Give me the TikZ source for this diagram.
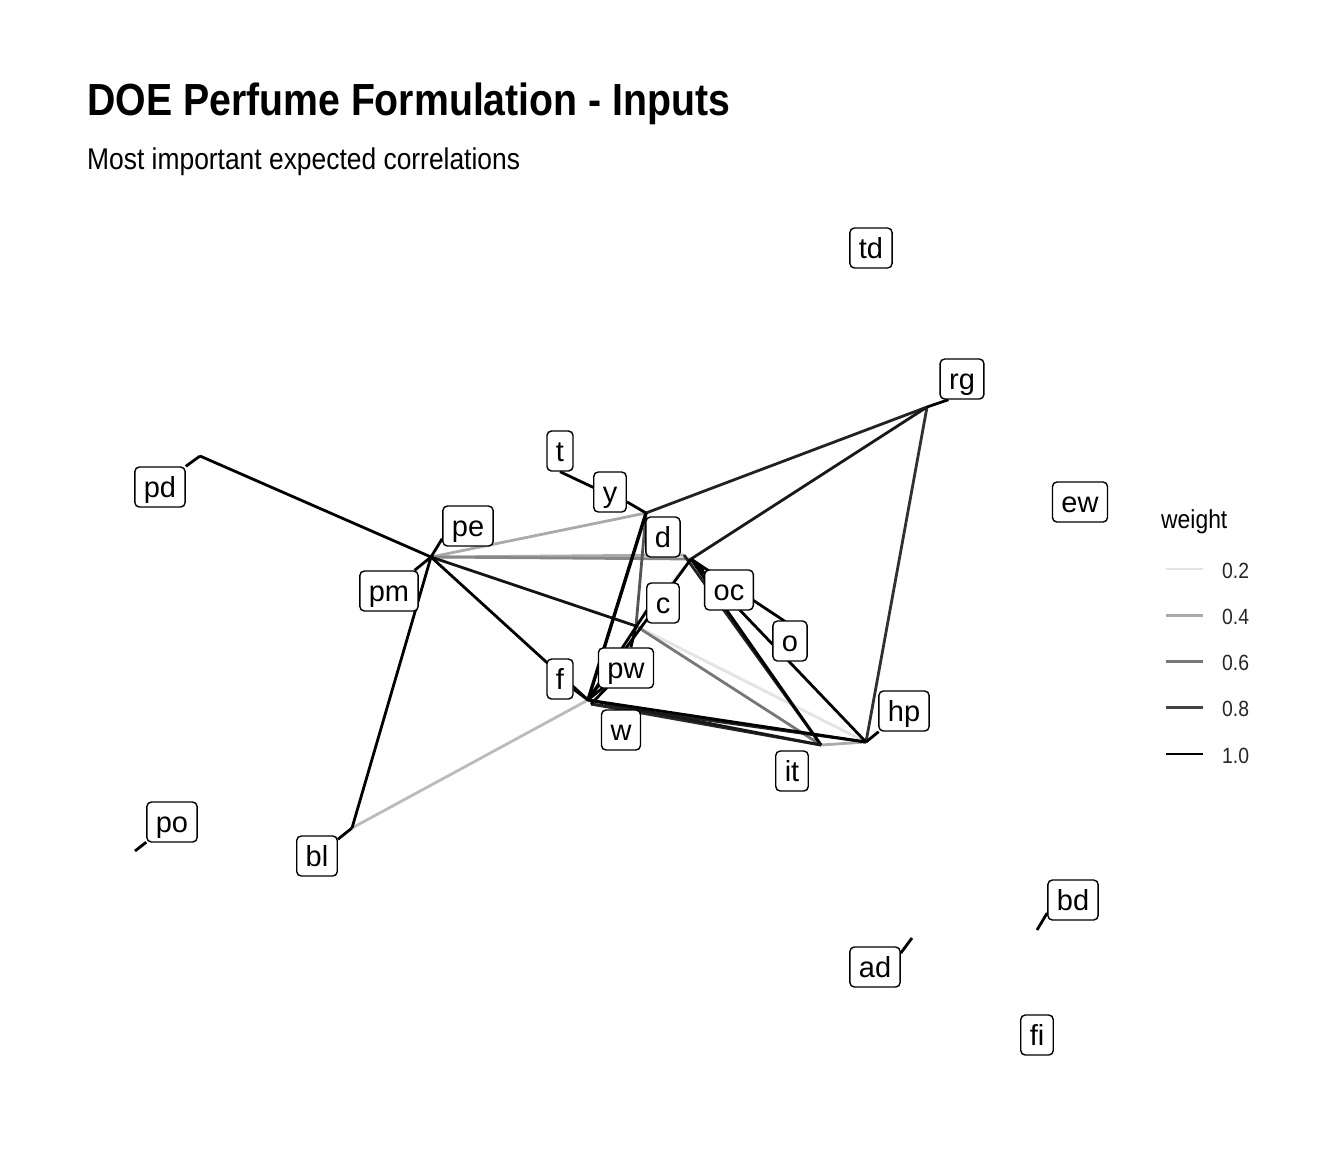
\documentclass[tikz,border=0pt]{standalone}
\usepackage{fontspec}
\setmainfont{Liberation Sans}
\newfontfamily\narrow[FakeStretch=0.88]{Liberation Sans}
\newfontfamily\narrowtitle[FakeStretch=0.872]{Liberation Sans}
\definecolor{wA}{HTML}{E4E4E4}
\definecolor{wB}{HTML}{AAAAAA}
\definecolor{wBB}{HTML}{BBBBBB}
\definecolor{wC}{HTML}{777777}
\definecolor{wCC}{HTML}{888888}
\definecolor{wD}{HTML}{444444}
\definecolor{wDD}{HTML}{555555}
\definecolor{wE}{HTML}{222222}
\definecolor{wF}{HTML}{000000}
\pgfdeclarelayer{edgelayer}
\pgfdeclarelayer{bglayer}
\pgfsetlayers{bglayer,edgelayer,main}
\begin{document}
\begin{tikzpicture}[x=1pt,y=-1pt,
  lbl/.style={draw=black, line width=1.4pt, rounded corners=4.5pt, fill=white,
    font=\fontsize{29}{30}\selectfont, text height=24.5pt, text depth=3.5pt,
    inner xsep=9pt, inner ysep=6pt},
  edge/.style={line width=2.8pt},
  seg/.style={line width=2.8pt, draw=black},
  legline/.style={line width=2.7pt},
  legtxt/.style={anchor=base west, inner sep=0pt, font=\narrow\fontsize{22}{24}\selectfont, text=black!85},
]
\useasboundingbox (0,0) rectangle (1344,1152);
\begin{pgfonlayer}{bglayer}
\fill[white] (0,0) rectangle (1344,1152);
\end{pgfonlayer}

% title
\node[anchor=base west, inner sep=0pt, font=\narrowtitle\bfseries\fontsize{45}{54}\selectfont] (title) at (87,115) {DOE Perfume Formulation - Inputs};
\node[anchor=base west, inner sep=0pt, font=\narrow\fontsize{30}{36}\selectfont] (subtitle) at (87,169) {Most important expected correlations};

% hidden node points
\coordinate (p_pd) at (200,456);
\coordinate (p_pe) at (431,557);
\coordinate (p_pm) at (431,557);
\coordinate (p_bl) at (352,828);
\coordinate (p_po) at (135,851);
\coordinate (p_rg) at (927,407);
\coordinate (p_t) at (620,500);
\coordinate (p_y) at (646,513);
\coordinate (p_d) at (684,555);
\coordinate (p_oc) at (691,559);
\coordinate (p_c) at (655,598);
\coordinate (p_x) at (636,626);
\coordinate (p_pw) at (622,672);
\coordinate (p_f) at (588,700);
\coordinate (p_w) at (591,704);
\coordinate (p_o) at (795,628);
\coordinate (p_hp) at (866,742);
\coordinate (p_it) at (821,745);
\coordinate (p_ad) at (912,938);
\coordinate (p_bd) at (1037,930);

% labels
\node[lbl] (td) at (871,248) {td};
\node[lbl] (rg) at (962,379) {rg};
\node[lbl] (t) at (560,451) {t};
\node[lbl] (y) at (610,492) {y};
\node[lbl] (pd) at (160,487) {pd};
\node[lbl] (ew) at (1080,502) {ew};
\node[lbl] (pe) at (468,526) {pe};
\node[lbl] (d) at (663,537) {d};
\node[lbl] (pm) at (389,591) {pm};
\node[lbl] (oc) at (729,590) {oc};
\node[lbl] (c) at (663,603) {c};
\node[lbl] (o) at (790,641) {o};
\node[lbl] (pw) at (626,668) {pw};
\node[lbl] (f) at (560,679) {f};
\node[lbl] (hp) at (904,711) {hp};
\node[lbl] (w) at (621,730) {w};
\node[lbl] (it) at (792,771) {it};
\node[lbl] (po) at (172,822) {po};
\node[lbl] (bl) at (317,856) {bl};
\node[lbl] (bd) at (1073,900) {bd};
\node[lbl] (ad) at (875,967) {ad};
\node[lbl] (fi) at (1037,1035) {fi};

\begin{pgfonlayer}{edgelayer}
% edges
\draw[edge, wA] (p_x) -- (p_hp);
\draw[edge, wA] (p_x) -- (p_oc);
\draw[edge, wBB] (p_bl) -- (p_f);
\draw[edge, wB] (p_pe) -- (p_y);
\draw[edge, wB] (p_pe) -- (p_d);
\draw[edge, wCC] (p_pe) -- (p_oc);
\draw[edge, wB] (p_it) -- (p_hp);
\draw[edge, wC] (p_x) -- (p_it);
\draw[edge, wDD] (p_y) -- (p_x);
\draw[edge, wD!70!black] (p_rg) -- (p_hp);
\draw[edge, wE] (p_y) -- (p_rg);
\draw[edge, wE] (p_d) -- (p_it);
\draw[edge, wD!60!black] (p_w) -- (p_it);
\draw[edge, wE] (p_w) -- (p_hp);
\draw[edge, wF!90] (p_rg) -- (p_oc);
\draw[edge, wF] (p_pd) -- (p_pe);
\draw[edge, wF!92] (p_pe) -- (p_x);
\draw[edge, wF] (p_pe) -- (p_f);
\draw[edge, wF] (p_bl) -- (p_pe);
\draw[edge, wF, line width=3.4pt] (p_y) -- (p_f);
\draw[edge, wF] (p_f) -- (p_oc);
\draw[edge, wF] (p_f) -- (p_c);
\draw[edge, wF] (p_f) -- (p_pw);
\draw[edge, wF] (p_w) -- (p_pw);
\draw[edge, wF] (p_oc) -- (p_hp);
\draw[edge, wF] (p_oc) -- (p_it);
\draw[edge, wF] (p_oc) -- (p_o);
\draw[edge, wF!90] (p_f) -- (p_it);
\draw[edge, wF] (p_f) -- (p_hp);
% label segments
\draw[seg] (pd.north east) -- (p_pd);
\draw[seg] ([yshift=8pt]pe.south west) -- (p_pe);
\draw[seg] (pm) -- (p_pm);
\draw[seg] (bl) -- (p_bl);
\draw[seg] (po) -- (p_po);
\draw[seg] ([xshift=9pt]rg.south west) -- (p_rg);
\draw[seg] (t.south) -- (p_t);
\draw[seg] (y) -- (p_y);
\draw[seg] (f) -- (p_f);
\draw[seg] (pw) -- (p_x);
\draw[seg] (hp) -- (p_hp);
\draw[seg] ([yshift=14pt]ad.east) -- (p_ad);
\draw[seg] ([yshift=-13pt]bd.west) -- (p_bd);
\draw[seg] (oc) -- (p_oc);
\end{pgfonlayer}

% legend
\node[anchor=base west, inner sep=0pt, font=\narrow\fontsize{26}{30}\selectfont] (legtitle) at (1161,528) {weight};
\coordinate (la1) at (1166,569);   \coordinate (lb1) at (1203,569);
\coordinate (la2) at (1166,615.5); \coordinate (lb2) at (1203,615.5);
\coordinate (la3) at (1166,661.5); \coordinate (lb3) at (1203,661.5);
\coordinate (la4) at (1166,707.5); \coordinate (lb4) at (1203,707.5);
\coordinate (la5) at (1166,754);   \coordinate (lb5) at (1203,754);
\draw[legline, wA] (la1) -- (lb1);
\draw[legline, wB] (la2) -- (lb2);
\draw[legline, wC] (la3) -- (lb3);
\draw[legline, wD] (la4) -- (lb4);
\draw[legline, wF] (la5) -- (lb5);
\node[legtxt] (lt1) at (1222,578) {0.2};
\node[legtxt] (lt2) at (1222,624.5) {0.4};
\node[legtxt] (lt3) at (1222,670.5) {0.6};
\node[legtxt] (lt4) at (1222,716.5) {0.8};
\node[legtxt] (lt5) at (1222,763) {1.0};
\end{tikzpicture}
\end{document}
